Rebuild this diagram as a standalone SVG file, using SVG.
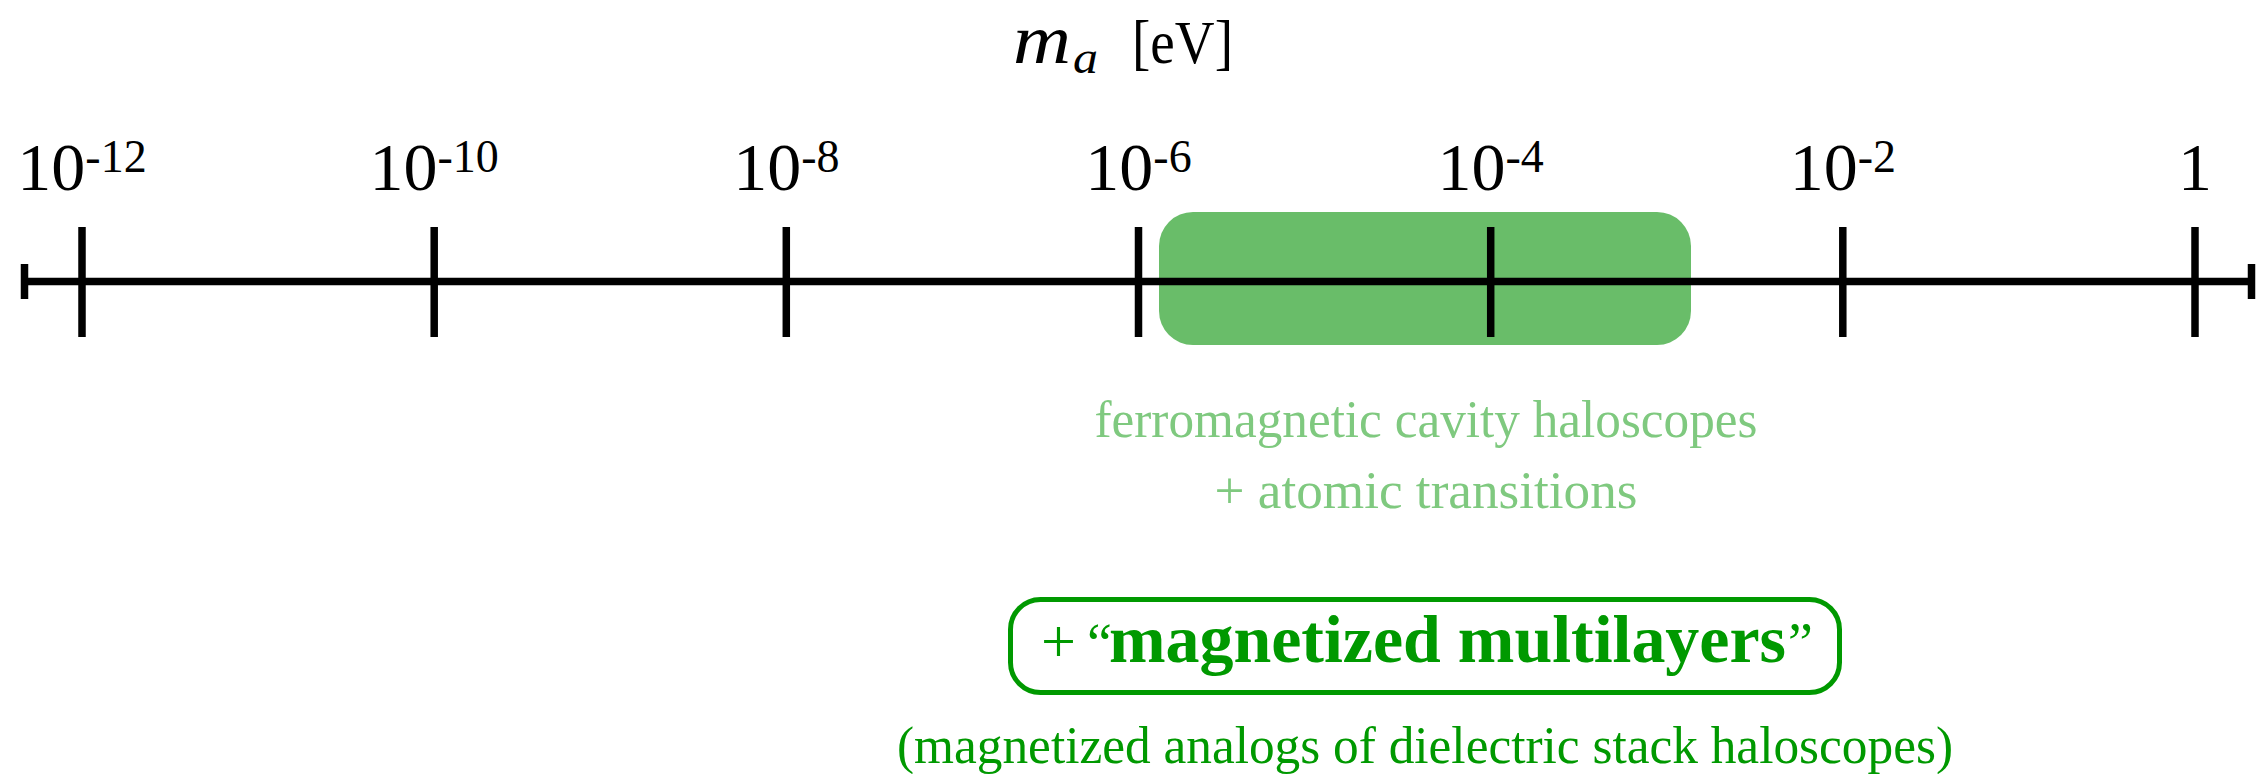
<svg xmlns="http://www.w3.org/2000/svg" width="2259" height="774" viewBox="0 0 2259 774" font-family="'Liberation Serif', 'DejaVu Serif', serif">
<style>
  text, tspan { font-family: "Liberation Serif", "DejaVu Serif", serif; }
  .tick { stroke: #000; stroke-width: 7.5; fill: none; }
  .lab { font-size: 68px; fill: #000; text-anchor: middle; }
  .sup { font-size: 46px; }
  .light { fill: #7fc97f; font-size: 53px; text-anchor: middle; }
  .dark { fill: #009900; }
</style>
<rect x="0" y="0" width="2259" height="774" fill="#ffffff"/>

<g id="range-box">
  <rect x="1159" y="212" width="532" height="133" rx="34" ry="34" fill="#69bd69"/>
</g>

<g id="axis-title">
  <text x="1013" y="63" font-style="italic" font-size="70" textLength="58" lengthAdjust="spacingAndGlyphs">m</text>
  <text x="1073" y="73" font-style="italic" font-size="46" textLength="25" lengthAdjust="spacingAndGlyphs">a</text>
  <text x="1132" y="63" font-size="62" textLength="101" lengthAdjust="spacingAndGlyphs">[eV]</text>
</g>

<g id="axis">
  <line class="tick" x1="21" y1="281.5" x2="2255" y2="281.5"/>
  <line class="tick" x1="24.5" y1="264" x2="24.5" y2="299"/>
  <line class="tick" x1="2251.5" y1="264" x2="2251.5" y2="299"/>
  <line class="tick" x1="82" y1="227" x2="82" y2="337"/>
  <line class="tick" x1="434.2" y1="227" x2="434.2" y2="337"/>
  <line class="tick" x1="786.3" y1="227" x2="786.3" y2="337"/>
  <line class="tick" x1="1138.5" y1="227" x2="1138.5" y2="337"/>
  <line class="tick" x1="1490.7" y1="227" x2="1490.7" y2="337"/>
  <line class="tick" x1="1842.8" y1="227" x2="1842.8" y2="337"/>
  <line class="tick" x1="2195" y1="227" x2="2195" y2="337"/>
</g>

<g id="tick-labels">
  <text class="lab" x="82" y="190">10<tspan class="sup" dy="-18">-12</tspan></text>
  <text class="lab" x="434.2" y="190">10<tspan class="sup" dy="-18">-10</tspan></text>
  <text class="lab" x="786.3" y="190">10<tspan class="sup" dy="-18">-8</tspan></text>
  <text class="lab" x="1138.5" y="190">10<tspan class="sup" dy="-18">-6</tspan></text>
  <text class="lab" x="1490.7" y="190">10<tspan class="sup" dy="-18">-4</tspan></text>
  <text class="lab" x="1842.8" y="190">10<tspan class="sup" dy="-18">-2</tspan></text>
  <text class="lab" x="2195" y="190">1</text>
</g>

<g id="range-label">
  <text class="light" x="1426" y="437" textLength="663" lengthAdjust="spacingAndGlyphs">ferromagnetic cavity haloscopes</text>
  <text class="light" x="1426" y="508" textLength="423" lengthAdjust="spacingAndGlyphs">+ atomic transitions</text>
</g>

<g id="multilayers">
  <rect x="1010.5" y="599.5" width="829" height="93" rx="30" ry="30" fill="none" stroke="#009900" stroke-width="5"/>
  <text class="dark" x="1041" y="662" font-size="62">+</text>
  <text class="dark" x="1087" y="662" font-size="56">“</text>
  <text class="dark" x="1109" y="662" font-size="68" font-weight="bold" textLength="677" lengthAdjust="spacingAndGlyphs">magnetized multilayers</text>
  <text class="dark" x="1788" y="662" font-size="56">”</text>
</g>

<g id="multilayers-note">
  <text class="dark" x="1425" y="763" text-anchor="middle" font-size="53" textLength="1056" lengthAdjust="spacingAndGlyphs">(magnetized analogs of dielectric stack haloscopes)</text>
</g>
</svg>
